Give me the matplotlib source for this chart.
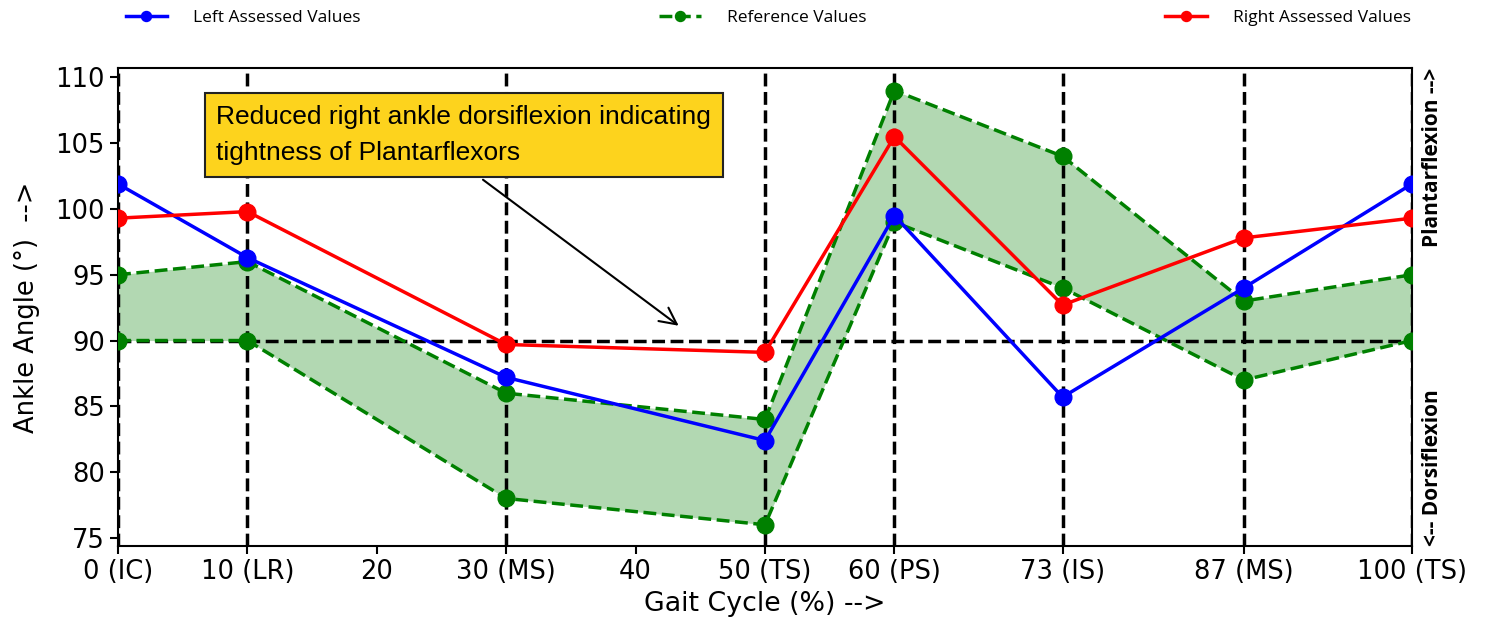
import matplotlib
matplotlib.use("Agg")
import matplotlib.pyplot as plt

# gait cycle events (%)
gait_pct = [0, 10, 30, 50, 60, 73, 87, 100]
left_vals = [101.9, 96.3, 87.2, 82.4, 99.5, 85.7, 94.0, 101.9]
right_vals = [99.3, 99.8, 89.7, 89.1, 105.5, 92.7, 97.8, 99.3]
ref_upper = [95, 96, 86, 84, 109, 104, 93, 95]
ref_lower = [90, 90, 78, 76, 99, 94, 87, 90]

tick_pos = [0, 10, 20, 30, 40, 50, 60, 73, 87, 100]
tick_labels = ['0 (IC)', '10 (LR)', '20', '30 (MS)', '40', '50 (TS)',
               '60 (PS)', '73 (IS)', '87 (MS)', '100 (TS)']

fig, ax = plt.subplots(figsize=(14.85, 6.31), dpi=100)
fig.subplots_adjust(left=0.0795, right=0.9508, top=0.892, bottom=0.135)

# reference band
ax.fill_between(gait_pct, ref_lower, ref_upper, color='green', alpha=0.3, lw=0)

# event lines
for x in gait_pct:
    ax.axvline(x, color='black', ls='--', lw=2.5, zorder=2)
ax.axhline(90, color='black', ls='--', lw=2.5, zorder=2)

ax.plot(gait_pct, left_vals, color='blue', marker='o', ms=12, lw=2.5,
        label='Left Assessed Values', zorder=4)
ax.plot(gait_pct, ref_upper, color='green', ls='--', marker='o', ms=12, lw=2.5,
        label='Reference Values', zorder=3)
ax.plot(gait_pct, ref_lower, color='green', ls='--', marker='o', ms=12, lw=2.5,
        zorder=3)
ax.plot(gait_pct, right_vals, color='red', marker='o', ms=12, lw=2.5,
        label='Right Assessed Values', zorder=4)

ax.set_xlim(0, 100)
ax.set_ylim(74.4, 110.7)
ax.set_xticks(tick_pos)
ax.set_xticklabels(tick_labels)
ax.set_yticks(range(75, 111, 5))
ax.tick_params(labelsize=18.5, width=1.5, length=6)
for sp in ax.spines.values():
    sp.set_linewidth(1.5)

ax.set_xlabel('Gait Cycle (%) -->', fontsize=19.3)
ax.set_ylabel('Ankle Angle (°)  -->', fontsize=18.5, labelpad=11)

ax.annotate('Reduced right ankle dorsiflexion indicating\ntightness of Plantarflexors',
            xy=(43.5, 91.0), xytext=(7.6, 105.6), textcoords='data',
            ha='left', va='center', fontsize=19, family='Liberation Sans',
            linespacing=1.65,
            bbox=dict(boxstyle='square,pad=0.45', fc='#fdd31d', ec='#222222', lw=1.5),
            arrowprops=dict(arrowstyle='->', color='black', lw=1.5,
                            mutation_scale=30, relpos=(0.5, 0.0)),
            zorder=5)

ax.text(1.008, 1.0, 'Plantarflexion -->', transform=ax.transAxes, rotation=90,
        ha='left', va='top', fontsize=15, fontweight='bold', family='Open Sans')
ax.text(1.008, 0.0, '<-- Dorsiflexion', transform=ax.transAxes, rotation=90,
        ha='left', va='bottom', fontsize=15, fontweight='bold', family='Open Sans')

ax.legend(bbox_to_anchor=(-0.017, 1.026, 1.039, 0.2), loc='lower left', mode='expand',
          ncol=3, frameon=False, prop={'family': 'Open Sans', 'size': 12.5},
          markerscale=0.6, handlelength=2.4, handletextpad=1.5, borderaxespad=1.3)

fig.savefig('out.png', dpi=100)
